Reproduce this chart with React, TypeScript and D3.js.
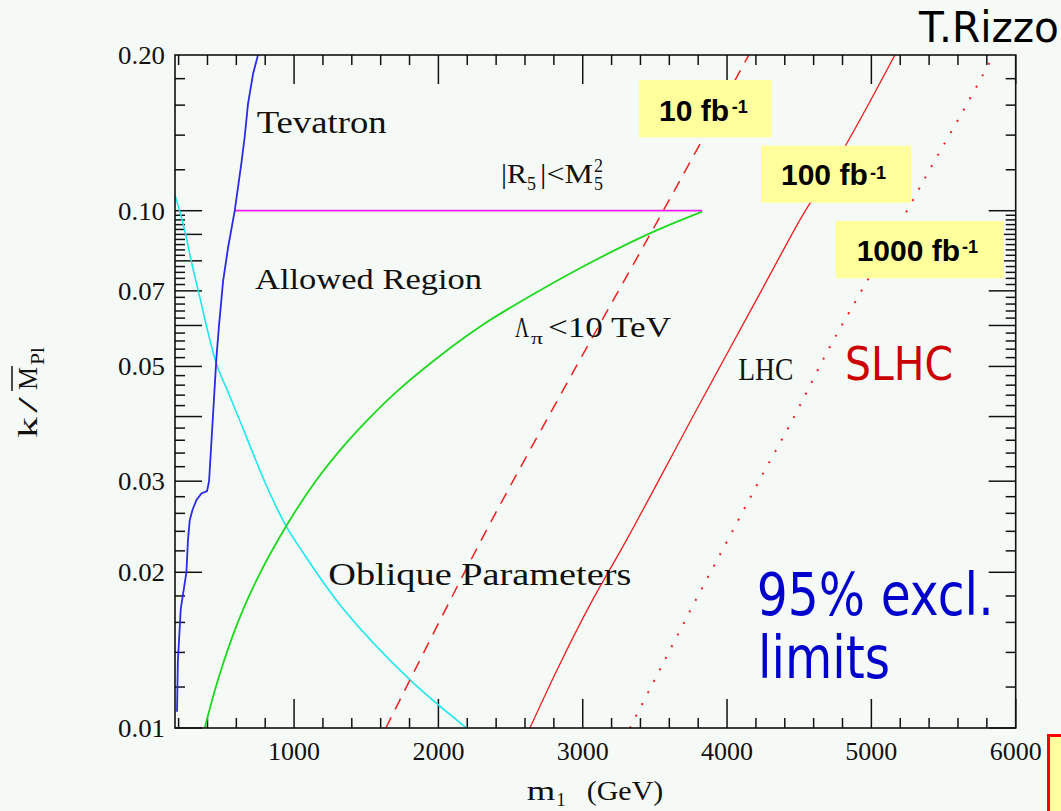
import React from "react";
import * as d3 from "d3";

// ---------- data (m1 in GeV, k/Mpl) ----------
const tevatron: [number, number][] = [
  [189, 0.01075], [195, 0.0135], [215, 0.017], [254, 0.02], [265, 0.0231], [277, 0.0252],
  [296, 0.0264], [324, 0.0276], [358, 0.0284], [397, 0.0287], [411, 0.03], [439, 0.0405],
  [462, 0.052], [480, 0.06], [508, 0.073], [543, 0.085], [589, 0.1], [635, 0.1236],
  [658, 0.139], [681, 0.161], [716, 0.184], [750, 0.2],
];
const curvatureBound: [number, number][] = [[589, 0.1], [3828, 0.1]];
const lambdaBound: [number, number][] = [
  [381, 0.01], [473, 0.0124], [610, 0.016], [739, 0.0193], [947, 0.0246], [1149, 0.03],
  [1340, 0.035], [1532, 0.04], [1723, 0.045], [2079, 0.0542], [2300, 0.06], [2541, 0.066],
  [3003, 0.078], [3465, 0.0904], [3828, 0.0996],
];
const oblique: [number, number][] = [
  [175, 0.1073], [242, 0.0918], [289, 0.0796], [335, 0.0703], [462, 0.0506], [540, 0.0448],
  [624, 0.0393], [809, 0.0294], [947, 0.0245], [1040, 0.0223], [1340, 0.017], [1802, 0.0124],
  [2195, 0.01],
];
const lhc10: [number, number][] = [
  [1636, 0.01], [2287, 0.0228], [2864, 0.045], [3558, 0.1], [4151, 0.2],
];
const lhc100: [number, number][] = [
  [2634, 0.01], [2842, 0.0133], [3050, 0.0173], [3304, 0.0231], [3812, 0.0424], [4205, 0.0674],
  [4505, 0.096], [4574, 0.1033], [4829, 0.1349], [5163, 0.2],
];
const slhc1000: [number, number][] = [
  [3327, 0.01], [3466, 0.0119], [3789, 0.0178], [4020, 0.0235], [4251, 0.0311], [4436, 0.0386],
  [4713, 0.0546], [4898, 0.0674], [5245, 0.0998], [5429, 0.1236], [5626, 0.1542], [5822, 0.194],
];

const xTickLabels = [1000, 2000, 3000, 4000, 5000, 6000];
const yTickLabels = [0.01, 0.02, 0.03, 0.05, 0.07, 0.1, 0.2];
const yTickText = ["0.01", "0.02", "0.03", "0.05", "0.07", "0.10", "0.20"];

const lumiLabels = ["10 fb", "100 fb", "1000 fb"];

// ---------- layout ----------
const W = 1061, H = 811;
const L = 175, R = 1015.7, T = 55, B = 728;
const SERIF = "'Liberation Serif', 'DejaVu Serif', serif";
const SANS = "'Liberation Sans', Arial, sans-serif";
const COMIC = "'DejaVu Sans', sans-serif";

export default function App() {
  const x = d3.scaleLinear().domain([175, 6000]).range([L, R]);
  const y = d3.scaleLog().domain([0.01, 0.2]).range([B, T]);

  const lineLin = d3.line<[number, number]>().x(d => x(d[0])).y(d => y(d[1]));
  const lineSmooth = d3.line<[number, number]>().x(d => x(d[0])).y(d => y(d[1])).curve(d3.curveCatmullRom.alpha(0.5));

  const xMinor = d3.range(200, 6000, 200).filter(v => v % 1000 !== 0);
  const yLong = d3.range(1, 11).map(i => i / 100);
  const yShort = [
    ...d3.range(10, 100, 2).filter(v => v % 10 !== 0).map(v => v / 1000),
    0.12, 0.14, 0.16, 0.18,
  ];

  const tickStroke = { stroke: "#111", strokeWidth: 1.5 };

  return (
    <svg width={W} height={H} style={{ position: "absolute", left: 0, top: 0 }}>
      <defs>
        <clipPath id="plot">
          <rect x={L} y={T} width={R - L} height={B - T} />
        </clipPath>
      </defs>
      <rect x={0} y={0} width={W} height={H} fill="#f6faf7" />

      {/* ticks */}
      {xMinor.map(v => (
        <g key={"xm" + v}>
          <line x1={x(v)} x2={x(v)} y1={B} y2={B - 10} {...tickStroke} />
          <line x1={x(v)} x2={x(v)} y1={T} y2={T + 10} {...tickStroke} />
        </g>
      ))}
      {xTickLabels.map(v => (
        <g key={"xM" + v}>
          <line x1={x(v)} x2={x(v)} y1={B} y2={B - 29} {...tickStroke} />
          <line x1={x(v)} x2={x(v)} y1={T} y2={T + 29} {...tickStroke} />
          <text x={x(v)} y={760} textAnchor="middle" fontFamily={SERIF} fontSize={25}
            textLength={52} lengthAdjust="spacingAndGlyphs" fill="#111">{v}</text>
        </g>
      ))}
      {yLong.map(v => (
        <g key={"yl" + v}>
          <line x1={L} x2={L + 27} y1={y(v)} y2={y(v)} {...tickStroke} />
          <line x1={R} x2={R - 27} y1={y(v)} y2={y(v)} {...tickStroke} />
        </g>
      ))}
      {yShort.map(v => (
        <g key={"ys" + v}>
          <line x1={L} x2={L + 10} y1={y(v)} y2={y(v)} {...tickStroke} />
          <line x1={R} x2={R - 10} y1={y(v)} y2={y(v)} {...tickStroke} />
        </g>
      ))}
      {yTickLabels.map((v, i) => (
        <text key={"yt" + v} x={165} y={y(v) + 9} textAnchor="end" fontFamily={SERIF} fontSize={25}
          textLength={47} lengthAdjust="spacingAndGlyphs" fill="#111">{yTickText[i]}</text>
      ))}

      {/* curves */}
      <g clipPath="url(#plot)" fill="none">
        <path d={lineSmooth(oblique) || ""} stroke="#1ee8ee" strokeWidth={1.6} />
        <path d={lineSmooth(lambdaBound) || ""} stroke="#1ed81e" strokeWidth={1.8} />
        <path d={lineLin(curvatureBound) || ""} stroke="#f01ef0" strokeWidth={1.8} />
        <path d={lineLin(tevatron) || ""} stroke="#2a2ae8" strokeWidth={1.8} />
        <path d={lineSmooth(lhc10) || ""} stroke="#f01e1e" strokeWidth={1.5} strokeDasharray="12,9" />
        <path d={lineSmooth(lhc100) || ""} stroke="#f01e1e" strokeWidth={1.3} />
        <path d={lineSmooth(slhc1000) || ""} stroke="#f01e1e" strokeWidth={2} strokeDasharray="2,11" />
      </g>

      {/* frame */}
      <rect x={L} y={T} width={R - L} height={B - T} fill="none" stroke="#111" strokeWidth={1.6} />

      {/* in-plot labels */}
      <text x={256.7} y={133} fontFamily={SERIF} fontSize={31} textLength={130} lengthAdjust="spacingAndGlyphs" fill="#111">Tevatron</text>
      <text x={255} y={288.5} fontFamily={SERIF} fontSize={30} textLength={227} lengthAdjust="spacingAndGlyphs" fill="#111">Allowed Region</text>
      <text x={328.3} y={585} fontFamily={SERIF} fontSize={31} textLength={303} lengthAdjust="spacingAndGlyphs" fill="#111">Oblique Parameters</text>
      <text x={738.3} y={380} fontFamily={SERIF} fontSize={31} textLength={55} lengthAdjust="spacingAndGlyphs" fill="#111">LHC</text>

      {/* |R5| < M5^2 */}
      <g fontFamily={SERIF} fill="#111">
        <text x={501} y={183} fontSize={28} textLength={26} lengthAdjust="spacingAndGlyphs">|R</text>
        <text x={527} y={190} fontSize={18}>5</text>
        <text x={540} y={183} fontSize={28} textLength={53} lengthAdjust="spacingAndGlyphs">|&lt;M</text>
        <text x={594} y={171.5} fontSize={18}>2</text>
        <text x={594} y={190} fontSize={18}>5</text>
      </g>

      {/* Λπ < 10 TeV */}
      <g fontFamily={SERIF} fill="#111">
        <text x={515} y={337} fontSize={29} textLength={14} lengthAdjust="spacingAndGlyphs">Λ</text>
        <text x={531} y={344} fontSize={17} textLength={12} lengthAdjust="spacingAndGlyphs">π</text>
        <text x={548} y={337} fontSize={29} textLength={123} lengthAdjust="spacingAndGlyphs">&lt;10  TeV</text>
      </g>

      {/* axis titles */}
      <text x={526.7} y={800} fontFamily={SERIF} fontSize={28} textLength={28.5} lengthAdjust="spacingAndGlyphs" fill="#111">m</text>
      <text x={556.5} y={806} fontFamily={SERIF} fontSize={18} fill="#111">1</text>
      <text x={586.7} y={800} fontFamily={SERIF} fontSize={28} textLength={76.6} lengthAdjust="spacingAndGlyphs" fill="#111">(GeV)</text>

      <g transform="translate(37,438) rotate(-90)" fontFamily={SERIF} fill="#111">
        <text x={0} y={0} fontSize={28} textLength={21} lengthAdjust="spacingAndGlyphs">k</text>
        <text x={25} y={0} fontSize={28} textLength={16} lengthAdjust="spacingAndGlyphs">/</text>
        <text x={48} y={0} fontSize={28} textLength={23} lengthAdjust="spacingAndGlyphs">M</text>
        <line x1={47} x2={72} y1={-25} y2={-25} stroke="#111" strokeWidth={1.5} />
        <text x={73} y={7} fontSize={18} textLength={18} lengthAdjust="spacingAndGlyphs">Pl</text>
      </g>

      {/* luminosity boxes */}
      {[
        { bx: 639.3, by: 80, bw: 132.4, bh: 57.3, tx: 659, ty: 120.7, sx: 731.7, sy: 113 },
        { bx: 761, by: 145.7, bw: 150, bh: 57, tx: 781, ty: 185, sx: 870, sy: 178.5 },
        { bx: 836, by: 221, bw: 168, bh: 57.3, tx: 856.7, ty: 261, sx: 962, sy: 253 },
      ].map((b, i) => (
        <g key={"lumi" + i}>
          <rect x={b.bx} y={b.by} width={b.bw} height={b.bh} fill="#ffff9c" />
          <text x={b.tx} y={b.ty} fontFamily={SANS} fontWeight="bold" fontSize={30} fill="#000">{lumiLabels[i]}</text>
          <text x={b.sx} y={b.sy} fontFamily={SANS} fontWeight="bold" fontSize={18} fill="#000">-1</text>
        </g>
      ))}

      {/* annotations */}
      <text x={919} y={41.7} fontFamily={COMIC} fontSize={42} textLength={140} lengthAdjust="spacingAndGlyphs" fill="#000">T.Rizzo</text>
      <text x={845} y={380} fontFamily={COMIC} fontSize={46} textLength={108} lengthAdjust="spacingAndGlyphs" fill="#cc0000">SLHC</text>
      <text x={756.7} y={615} fontFamily={COMIC} fontSize={58} textLength={237} lengthAdjust="spacingAndGlyphs" fill="#0000cc">95% excl.</text>
      <text x={758} y={678} fontFamily={COMIC} fontSize={58} textLength={132} lengthAdjust="spacingAndGlyphs" fill="#0000cc">limits</text>

      {/* partial box at bottom right */}
      <rect x={1048.5} y={735.5} width={40} height={100} fill="#ffffa0" stroke="#ff0000" strokeWidth={3} />
    </svg>
  );
}
